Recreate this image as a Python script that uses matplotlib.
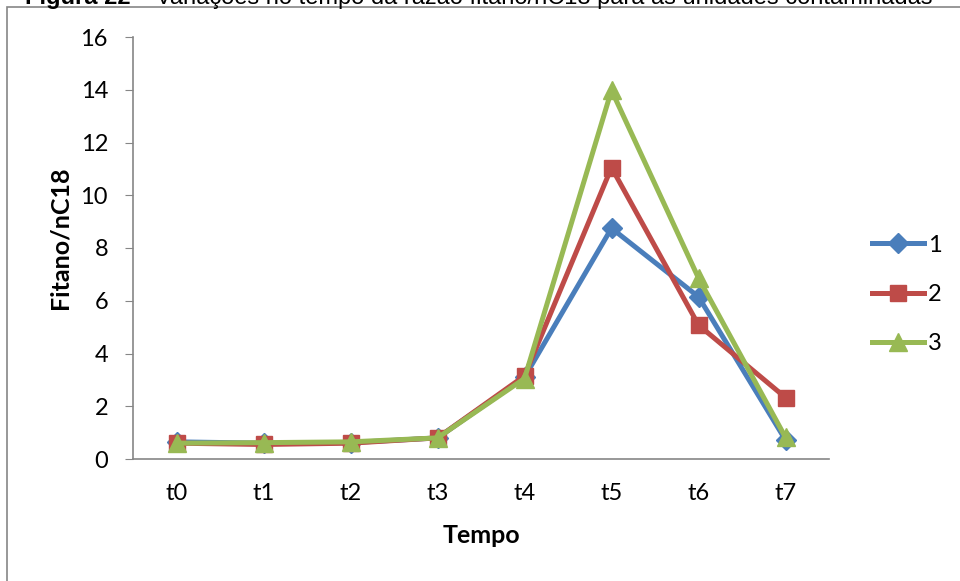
import matplotlib.pyplot as plt
from matplotlib.patches import Rectangle

categories = ["t0", "t1", "t2", "t3", "t4", "t5", "t6", "t7"]
serie_1 = [0.65, 0.6, 0.62, 0.8, 3.1, 8.75, 6.15, 0.72]
serie_2 = [0.6, 0.55, 0.6, 0.8, 3.15, 11.05, 5.08, 2.33]
serie_3 = [0.6, 0.62, 0.65, 0.8, 3.05, 13.98, 6.86, 0.82]
labels = ["1", "2", "3"]

plt.rcParams['font.family'] = ['Lato', 'DejaVu Sans']

fig = plt.figure(figsize=(9.6, 5.81), dpi=100)
ax = fig.add_axes((133/960, 122/581, 696/960, 422/581))

x = list(range(len(categories)))
ax.plot(x, serie_1, color="#4A7EBB", lw=3.6, marker="D", ms=10, label=labels[0])
ax.plot(x, serie_2, color="#BE4B48", lw=3.6, marker="s", ms=12, label=labels[1])
ax.plot(x, serie_3, color="#98B954", lw=3.6, marker="^", ms=13, label=labels[2])

ax.set_xlim(-0.5, 7.5)
ax.set_ylim(0, 16)
ax.set_yticks(range(0, 17, 2))
ax.set_xticks(x)
ax.set_xticklabels(categories)
for s in ["top", "right"]:
    ax.spines[s].set_visible(False)
for s in ["left", "bottom"]:
    ax.spines[s].set_color("#868686")
    ax.spines[s].set_linewidth(1.2)
ax.tick_params(axis="y", length=6, color="#868686", labelsize=17, pad=12)
ax.tick_params(axis="x", length=0, labelsize=17, pad=17)
ax.set_xlabel("Tempo", fontsize=18, fontweight="bold")
ax.set_ylabel("Fitano/nC18", fontsize=18, fontweight="bold")
ax.xaxis.set_label_coords(0.5, -0.155)
ax.yaxis.set_label_coords(-0.088, 0.524)

ax.legend(loc="center left", bbox_to_anchor=(1.045, 0.39), frameon=False,
          fontsize=17, handlelength=2.2, labelspacing=1.2, handletextpad=0.15,
          borderpad=0)

# chart border
fig.patches.append(Rectangle((7/960, -0.05), 1.0, 1 - 7/581 + 0.05,
                             transform=fig.transFigure, fill=False,
                             edgecolor="#868686", lw=1.2))

# caption cut off at the top of the image
fig.text(25/960, 1 - 4/581, "Figura 22", fontsize=17, fontweight="bold",
         family=["Liberation Sans"], va="baseline")
fig.text(136/960, 1 - 4/581,
         "\u2013 Variações no tempo da razão fitano/nC18 para as unidades contaminadas",
         fontsize=17, family=["Liberation Sans"], va="baseline")

fig.savefig("out.png", dpi=100)
